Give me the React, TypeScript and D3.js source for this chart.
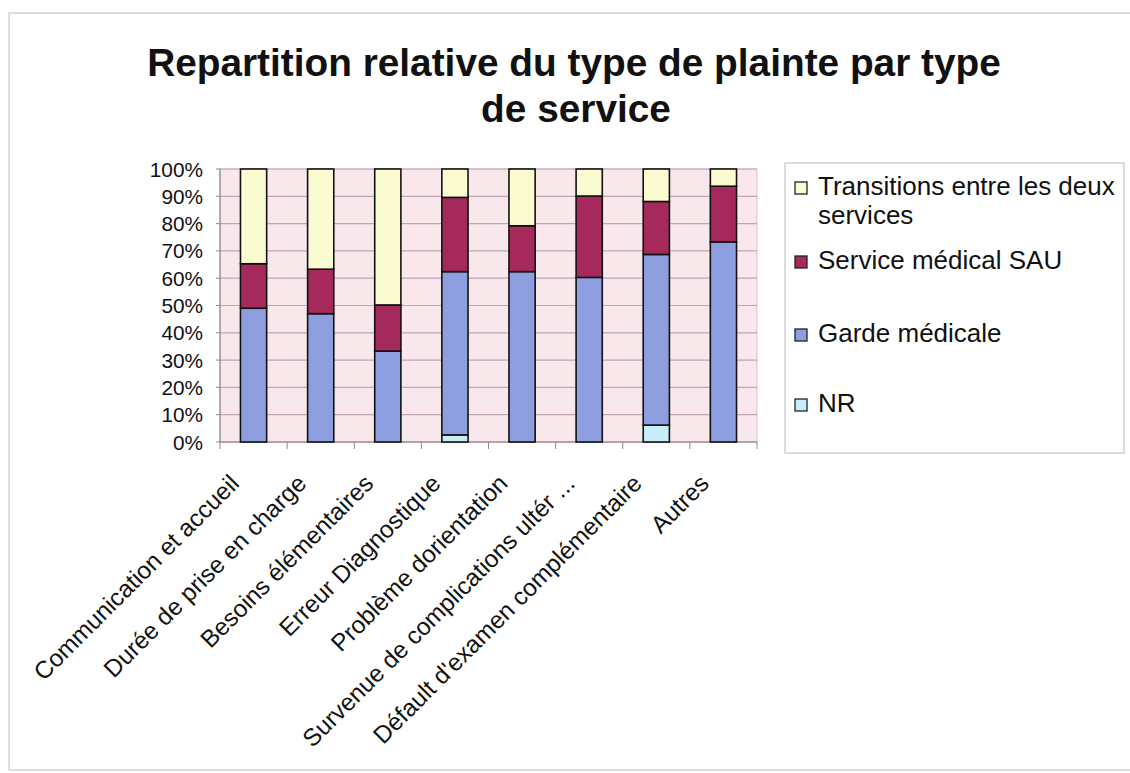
import React from "react";
import * as d3 from "d3";

const categories = [
  "Communication et accueil",
  "Durée de prise en charge",
  "Besoins élémentaires",
  "Erreur Diagnostique",
  "Problème dorientation",
  "Survenue de complications ultér ...",
  "Défault d'examen complémentaire",
  "Autres",
];

const seriesNames = ["NR", "Garde médicale", "Service médical SAU", "Transitions entre les deux services"];
const nrValues = [0, 0, 0, 2.6, 0, 0, 6.2, 0];
const gardeValues = [49, 47, 33.3, 59.8, 62.4, 60.3, 62.5, 73.3];
const sauValues = [16.3, 16.3, 16.9, 27.2, 16.8, 29.8, 19.4, 20.4];
const transValues = [34.7, 36.7, 49.8, 10.4, 20.8, 9.9, 11.9, 6.3];
const yTicks = [0, 10, 20, 30, 40, 50, 60, 70, 80, 90, 100];

const colors = ["#c9eef8", "#8e9fe0", "#a6295c", "#fbfbd2"];
const FONT = "'Liberation Sans', Arial, Helvetica, sans-serif";

export default function App() {
  const left = 220, right = 757, top = 169, bottom = 442;
  const x = d3.scaleBand<string>().domain(categories).range([left, right]).paddingInner(0.61).paddingOuter(0.305);
  const xb = d3.scaleBand<string>().domain(categories).range([left, right]).padding(0);
  const y = d3.scaleLinear().domain([0, 100]).range([bottom, top]);

  const table = categories.map((c, i) => ({
    cat: c,
    nr: nrValues[i],
    garde: gardeValues[i],
    sau: sauValues[i],
    trans: transValues[i],
  }));
  const keys = ["nr", "garde", "sau", "trans"];
  const stacked = d3.stack<any>().keys(keys)(table);

  const legendItems = [
    { name: ["Transitions entre les deux", "services"], color: colors[3], y: 195 },
    { name: ["Service médical SAU"], color: colors[2], y: 269 },
    { name: ["Garde médicale"], color: colors[1], y: 342 },
    { name: ["NR"], color: colors[0], y: 412 },
  ];

  return (
    <svg width={1130} height={773} style={{ position: "absolute", left: 0, top: 0, background: "#fff" }}>
      <rect x={9} y={13} width={1125} height={757} fill="#fff" stroke="#c8c8c8" strokeWidth={1.2} />
      <text x={574} y={76} textAnchor="middle" fontFamily={FONT} fontWeight="bold" fontSize={38.8} fill="#111">
        Repartition relative du type de plainte par type
      </text>
      <text x={576} y={122} textAnchor="middle" fontFamily={FONT} fontWeight="bold" fontSize={38.8} fill="#111">
        de service
      </text>

      {/* plot area */}
      <rect x={left} y={top} width={right - left} height={bottom - top} fill="#f8e8ec" stroke="#d4c4cc" strokeWidth={1} />
      {yTicks.map((t) => (
        <line key={"g" + t} x1={left} x2={right} y1={y(t)} y2={y(t)} stroke="#c4a3b4" strokeWidth={1.2} />
      ))}
      {/* y axis */}
      <line x1={left} x2={left} y1={top} y2={bottom} stroke="#8a8a8a" strokeWidth={1.2} />
      {yTicks.map((t) => (
        <g key={"yt" + t}>
          <line x1={left - 4} x2={left} y1={y(t)} y2={y(t)} stroke="#8a8a8a" strokeWidth={1} />
          <text x={203} y={y(t) + 7.5} textAnchor="end" fontFamily={FONT} fontSize={20.8} fill="#111">
            {t + "%"}
          </text>
        </g>
      ))}
      {/* x axis */}
      <line x1={left} x2={right} y1={bottom} y2={bottom} stroke="#8a8a8a" strokeWidth={1.2} />
      {categories.map((c) => (
        <line key={"xt" + c} x1={xb(c)!} x2={xb(c)!} y1={bottom} y2={bottom + 7} stroke="#8a8a8a" strokeWidth={1} />
      ))}
      <line x1={right} x2={right} y1={bottom} y2={bottom + 7} stroke="#8a8a8a" strokeWidth={1} />

      {/* bars */}
      {stacked.map((s, si) =>
        s.map((d, i) => {
          const h = y(d[0]) - y(d[1]);
          if (h <= 0.01) return null;
          return (
            <rect
              key={si + "-" + i}
              x={x(categories[i])!}
              y={y(d[1])}
              width={x.bandwidth()}
              height={h}
              fill={colors[si]}
              stroke="#111"
              strokeWidth={1.6}
            />
          );
        })
      )}

      {/* x labels */}
      {categories.map((c) => {
        const cx = xb(c)! + xb.bandwidth() / 2;
        const ax = cx - 13;
        const ay = bottom + 43;
        return (
          <text
            key={"xl" + c}
            x={ax}
            y={ay}
            transform={`rotate(-45 ${ax} ${ay})`}
            textAnchor="end"
            fontFamily={FONT}
            fontSize={24.3}
            fill="#111"
          >
            {c}
          </text>
        );
      })}

      {/* legend */}
      <rect x={785} y={163} width={339} height={290} fill="#fff" stroke="#b8b8b8" strokeWidth={1} />
      {legendItems.map((it) => (
        <g key={it.name[0]}>
          <rect x={795} y={it.y - 13} width={12} height={12} fill={it.color} stroke="#222" strokeWidth={1.3} />
          {it.name.map((ln, k) => (
            <text key={k} x={818} y={it.y + k * 29} fontFamily={FONT} fontSize={26} fill="#111">
              {ln}
            </text>
          ))}
        </g>
      ))}
    </svg>
  );
}
